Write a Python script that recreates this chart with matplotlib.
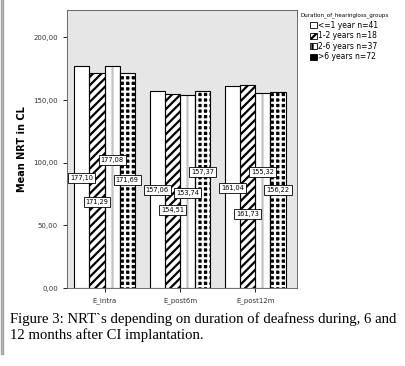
import numpy as np
import matplotlib
matplotlib.use("Agg")
import matplotlib.pyplot as plt
from matplotlib.lines import Line2D
from matplotlib.patches import Patch

categories = ["E_intra", "E_post6m", "E_post12m"]
groups = ["<=1 year n=41", "1-2 years n=18", "2-6 years n=37", ">6 years n=72"]
le1 = [177.10, 157.06, 161.04]
y1_2 = [171.29, 154.51, 161.73]
y2_6 = [177.08, 153.74, 155.32]
gt6 = [171.69, 157.37, 156.22]
values = [le1, y1_2, y2_6, gt6]
# heights where SPSS put the value boxes
label_y = [[88, 78, 80], [69, 62, 59], [102, 76, 93], [86, 93, 78]]

def fmt(v):
    return ("%.2f" % v).replace(".", ",")

plt.rcParams["hatch.linewidth"] = 1.6

fig = plt.figure(figsize=(4.05, 3.66), dpi=100)
ax = fig.add_axes([0.165, 0.213, 0.568, 0.760])
ax.set_facecolor("#e6e6e6")

x = np.arange(len(categories))
w = 0.2
# face, hatch, hatch colour
styles = [("white", "", "black"),
          ("white", "////", "black"),
          ("white", "||", "#c4c4c4"),
          ("black", "+++", "white")]

for i, vals in enumerate(values):
    xs = x + (i - 1.5) * w
    face, hatch, hcol = styles[i]
    ax.bar(xs, vals, w, color=face, edgecolor=hcol, hatch=hatch, linewidth=0, zorder=2)
    ax.bar(xs, vals, w, fill=False, edgecolor="black", linewidth=0.8, zorder=3)
    for xx, v, ly in zip(xs, vals, label_y[i]):
        ax.text(xx, ly, fmt(v), ha="center", va="center", fontsize=4.8, zorder=4,
                bbox=dict(boxstyle="square,pad=0.3", fc="white", ec="black", lw=0.6))

ax.set_xlim(-0.5, 2.55)
ax.set_ylim(0, 222)
ax.set_yticks([0, 50, 100, 150, 200])
ax.set_yticklabels([fmt(t) for t in [0, 50, 100, 150, 200]], fontsize=5, color="#333333")
ax.set_xticks(x)
ax.set_xticklabels(categories, fontsize=5, color="#333333")
ax.tick_params(length=3, width=0.6)
ax.set_ylabel("Mean NRT in CL", fontsize=7, fontweight="bold")
for s in ax.spines.values():
    s.set_linewidth(0.6)
    s.set_color("#555555")

handles = []
for face, hatch, hcol in styles:
    handles.append(Patch(facecolor=face, edgecolor="black", hatch=hatch, linewidth=0.6))
fig.text(0.742, 0.958, "Duration_of_hearingloss_groups", fontsize=4, va="center", ha="left")
fig.legend(handles, groups, loc="upper left", bbox_to_anchor=(0.763, 0.945),
           fontsize=5.5, frameon=False, handlelength=0.9, handleheight=0.9,
           handletextpad=0.2, labelspacing=0.2, borderpad=0.1, borderaxespad=0)

fig.add_artist(Line2D([0.006, 0.006], [0.035, 1.0], color="#aaaaaa", lw=2.5))

fig.text(0.024, 0.146, "Figure 3: NRT`s depending on duration of deafness during, 6 and\n"
         "12 months after CI implantation.", family="Liberation Serif", fontsize=10.6,
         va="top", ha="left", linespacing=1.2)

fig.savefig("out.png", dpi=100)
